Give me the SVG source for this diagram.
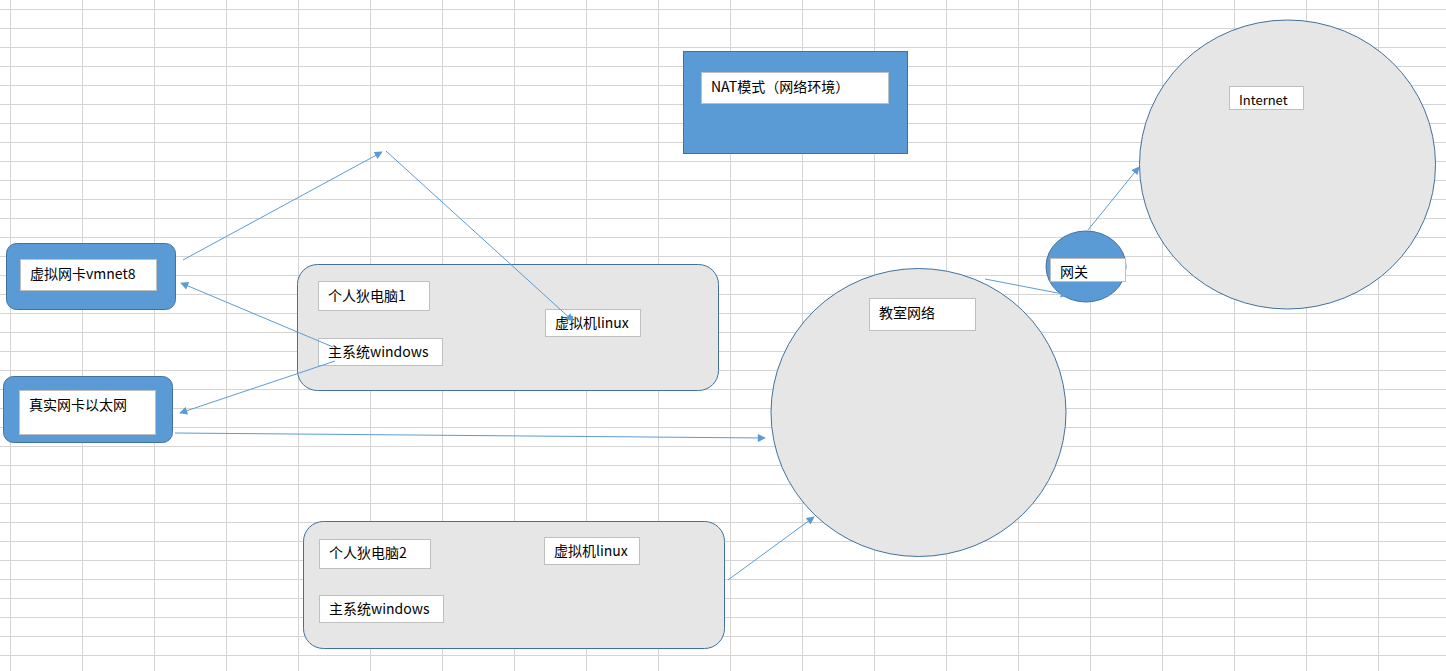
<svg xmlns="http://www.w3.org/2000/svg" width="1446" height="671" viewBox="0 0 1446 671">
  <style>
    .grid { stroke: #d4d4d4; stroke-width: 1; fill: none; }
    .blue { fill: #5b9bd5; stroke: #41719c; stroke-width: 1; }
    .gray { fill: #e7e6e6; stroke: #41719c; stroke-width: 1; }
    .label { fill: #ffffff; stroke: #bfbfbf; stroke-width: 1; }
    .txt { font-family: "Noto Sans CJK SC", "Noto Sans", sans-serif; font-size: 14px; fill: #000000; }
    .conn { stroke: #5b9bd5; stroke-width: 1; fill: none; marker-end: url(#arrow); }
  </style>
  <defs>
    <marker id="arrow" viewBox="0 0 10 10" refX="9" refY="5" markerWidth="10" markerHeight="8" markerUnits="userSpaceOnUse" orient="auto">
      <path d="M0,0 L10,5 L0,10 Z" fill="#5b9bd5"/>
    </marker>
  </defs>

  <rect x="0" y="0" width="1446" height="671" fill="#ffffff"/>

  <!-- worksheet grid -->
  <path class="grid" d="
    M10.5,0V671 M82.5,0V671 M154.5,0V671 M226.5,0V671 M298.5,0V671 M370.5,0V671 M442.5,0V671
    M514.5,0V671 M586.5,0V671 M658.5,0V671 M730.5,0V671 M802.5,0V671 M874.5,0V671 M946.5,0V671
    M1018.5,0V671 M1090.5,0V671 M1162.5,0V671 M1234.5,0V671 M1306.5,0V671 M1378.5,0V671
    M0,9.5H1446 M0,28.5H1446 M0,47.5H1446 M0,66.5H1446 M0,85.5H1446 M0,104.5H1446 M0,123.5H1446
    M0,142.5H1446 M0,161.5H1446 M0,180.5H1446 M0,199.5H1446 M0,218.5H1446 M0,237.5H1446
    M0,256.5H1446 M0,275.5H1446 M0,294.5H1446 M0,313.5H1446 M0,332.5H1446 M0,351.5H1446
    M0,370.5H1446 M0,389.5H1446 M0,408.5H1446 M0,427.5H1446 M0,446.5H1446 M0,465.5H1446
    M0,484.5H1446 M0,503.5H1446 M0,522.5H1446 M0,541.5H1446 M0,560.5H1446 M0,579.5H1446
    M0,598.5H1446 M0,617.5H1446 M0,636.5H1446 M0,655.5H1446"/>

  <!-- NAT mode title -->
  <g id="nat-mode">
    <rect class="blue" x="683.5" y="51.5" width="224" height="102"/>
    <rect class="label" x="701.5" y="72.5" width="187" height="31"/>
    <text class="txt" x="711" y="92">NAT模式（网络环境）</text>
  </g>

  <!-- virtual adapter vmnet8 -->
  <g id="vmnet8">
    <rect class="blue" x="6.5" y="243.5" width="169" height="66" rx="10" ry="10"/>
    <rect class="label" x="20.5" y="259.5" width="136" height="31"/>
    <text class="txt" x="30" y="279">虚拟网卡vmnet8</text>
  </g>

  <!-- physical ethernet adapter -->
  <g id="ethernet">
    <rect class="blue" x="3.5" y="376.5" width="169" height="66" rx="10" ry="10"/>
    <rect class="label" x="19.5" y="390.5" width="136" height="44"/>
    <text class="txt" x="29" y="410">真实网卡以太网</text>
  </g>

  <!-- personal computer 1 -->
  <g id="pc1">
    <rect class="gray" x="297.5" y="264.5" width="421" height="126" rx="20" ry="20"/>
    <rect class="label" x="318.5" y="281.5" width="111" height="29"/>
    <text class="txt" x="328" y="301">个人狄电脑1</text>
    <rect class="label" x="318.5" y="338.5" width="124" height="27"/>
    <text class="txt" x="328" y="357">主系统windows</text>
    <rect class="label" x="545.5" y="309.5" width="95" height="27"/>
    <text class="txt" x="555" y="328">虚拟机linux</text>
  </g>

  <!-- personal computer 2 -->
  <g id="pc2">
    <rect class="gray" x="303.5" y="521.5" width="421" height="127" rx="20" ry="20"/>
    <rect class="label" x="319.5" y="539.5" width="111" height="29"/>
    <text class="txt" x="329" y="558">个人狄电脑2</text>
    <rect class="label" x="319.5" y="595.5" width="124" height="27"/>
    <text class="txt" x="329" y="614">主系统windows</text>
    <rect class="label" x="544.5" y="537.5" width="95" height="27"/>
    <text class="txt" x="554" y="556">虚拟机linux</text>
  </g>

  <!-- classroom network -->
  <g id="classroom">
    <ellipse class="gray" cx="918.5" cy="412.5" rx="147.5" ry="144"/>
    <rect class="label" x="869.5" y="298.5" width="106" height="32"/>
    <text class="txt" x="879" y="318">教室网络</text>
  </g>

  <!-- gateway -->
  <g id="gateway">
    <ellipse class="blue" cx="1086" cy="266.5" rx="40" ry="35.5"/>
    <rect class="label" x="1050.5" y="258.5" width="75" height="23"/>
    <text class="txt" x="1060" y="277">网关</text>
  </g>

  <!-- internet -->
  <g id="internet">
    <ellipse class="gray" cx="1287.5" cy="164.5" rx="148" ry="144.5"/>
    <rect class="label" x="1229.5" y="86.5" width="74" height="23"/>
    <text class="txt" x="1239" y="105" style="font-size:13px">Internet</text>
  </g>

  <!-- connectors -->
  <g id="connectors">
    <line class="conn" x1="183" y1="260" x2="382" y2="152"/>
    <line class="conn" x1="386" y1="151" x2="573" y2="321"/>
    <line class="conn" x1="333" y1="347" x2="181" y2="283"/>
    <line class="conn" x1="335" y1="361" x2="180" y2="413"/>
    <line class="conn" x1="175" y1="433" x2="765" y2="438"/>
    <line class="conn" x1="728" y1="580" x2="814" y2="517"/>
    <line class="conn" x1="985" y1="279" x2="1068" y2="295"/>
    <line class="conn" x1="1088" y1="230" x2="1139" y2="167"/>
  </g>
</svg>
